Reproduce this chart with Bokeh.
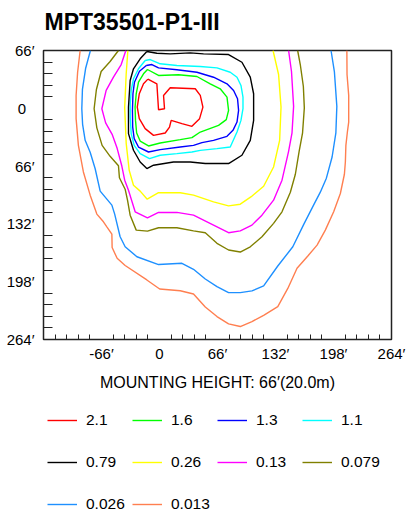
from bokeh.plotting import figure
from bokeh.layouts import column
from bokeh.models import Range1d, FixedTicker, Legend, LegendItem, Label
from bokeh.embed import file_html
from bokeh.resources import INLINE

title_text = "MPT35501-P1-III"
x_axis_label = "MOUNTING HEIGHT: 66\u2032(20.0m)"
x_ticks = [-66, 0, 66, 132, 198, 264]
x_tick_labels = ["-66\u2032", "0", "66\u2032", "132\u2032", "198\u2032", "264\u2032"]
y_ticks = [66, 0, -66, -132, -198, -264]
y_tick_labels = ["66\u2032", "0\u2007", "66\u2032", "132\u2032", "198\u2032", "264\u2032"]
minor_x = [-118.8, -105.6, -92.4, -79.2, -52.8, -39.6, -26.4, -13.2, 13.2, 26.4, 39.6, 52.8,
           79.2, 92.4, 105.6, 118.8, 145.2, 158.4, 171.6, 184.8, 211.2, 224.4, 237.6, 250.8]
minor_y = [52.8, 39.6, 26.4, 13.2, -13.2, -26.4, -39.6, -52.8, -79.2, -92.4, -105.6, -118.8,
           -145.2, -158.4, -171.6, -184.8, -211.2, -224.4, -237.6, -250.8]

levels = ["2.1", "1.6", "1.3", "1.1", "0.79", "0.26", "0.13", "0.079", "0.026", "0.013"]
colors = ["#ff0000", "#00ff00", "#0000ff", "#00ffff", "#000000",
          "#ffff00", "#ff00ff", "#808000", "#1e90ff", "#ff7f50"]

c_21_x = [-13.2, -3.0, -1.1, 5.7, 4.6, 12.2, 40.7, 46.4, 49.4, 45.6, 36.9, 25.5, 13.3, 11.4, 6.5,
          -6.8, -16.3, -23.0, -25.3, -23.0, -18.2, -13.2]
c_21_y = [33.3, 28.0, -1.6, -0.5, 14.7, 23.5, 22.3, 14.7, 1.4, -11.8, -20.6, -17.5, -13.8, -21.4,
          -28.2, -30.9, -23.2, -11.8, 1.4, 16.6, 28.0, 33.3]

c_16_x = [-13.7, -1.1, 21.6, 42.6, 57.7, 69.1, 76.8, 78.6, 76.0, 67.2, 46.4, 36.9, 23.6, 0.8,
          -12.5, -22.0, -26.0, -27.3, -27.8, -26.5, -23.9, -18.2, -13.7]
c_16_y = [44.3, 37.5, 38.3, 36.3, 28.0, 22.3, 12.8, -2.4, -13.0, -19.5, -27.1, -33.5, -35.8,
          -39.6, -43.0, -37.4, -28.2, -13.8, 1.4, 16.6, 29.8, 39.4, 44.3]

c_13_x = [-15.0, -8.7, -1.1, 19.8, 42.6, 61.5, 76.8, 84.3, 88.8, 90.0, 88.2, 83.6, 76.8, 61.5,
          48.3, 38.7, 23.6, 0.8, -12.5, -23.9, -28.8, -30.5, -30.8, -30.2, -28.5, -22.8, -15.0]
c_13_y = [48.9, 50.0, 46.2, 44.0, 41.2, 35.5, 28.0, 20.4, 10.9, -2.4, -15.7, -25.2, -32.0, -36.6,
          -39.2, -42.3, -44.2, -47.2, -49.9, -44.2, -34.6, -21.4, -2.4, 16.6, 29.8, 42.4, 48.9]

c_11_x = [-16.3, -10.6, 0.8, 19.8, 46.4, 65.4, 80.5, 88.2, 92.7, 95.0, 95.0, 92.7, 88.2, 80.5,
          65.4, 46.4, 36.9, 19.8, 0.8, -11.4, -22.0, -28.8, -32.2, -33.3, -33.3, -32.2, -29.6,
          -23.9, -16.3]
c_11_y = [54.6, 55.7, 50.8, 48.9, 47.7, 46.2, 41.2, 35.5, 26.1, 12.8, -0.5, -13.8, -27.1, -44.2,
          -46.0, -48.0, -49.9, -51.7, -53.6, -57.4, -51.7, -42.3, -28.9, -10.0, 5.2, 20.4, 33.7,
          45.1, 54.6]

c_079_x = [-14.4, -3.0, 12.2, 35.0, 50.1, 78.6, 93.8, 103.3, 107.1, 107.1, 103.3, 93.8, 78.6,
           52.1, 35.0, 15.9, -6.8, -14.4, -22.0, -29.6, -35.3, -35.3, -33.4, -29.6, -22.0, -14.4]
c_079_y = [64.8, 62.9, 62.2, 63.3, 62.2, 61.4, 52.6, 35.5, 16.6, -13.8, -36.6, -53.6, -63.1,
           -63.1, -61.3, -61.3, -65.0, -68.8, -61.3, -47.9, -28.9, 1.4, 31.8, 45.1, 56.5, 64.8]

c_026_x = [-36.0, -37.9, -39.6, -37.9, -34.5, -29.6, -22.0, -14.0, -1.1, 23.6, 38.7, 61.5, 78.6,
           91.9, 104.4, 118.5, 129.8, 136.7, 138.3, 135.5, 129.2]
c_026_y = [66, 39.4, 1.0, -40.0, -70.7, -87.8, -94.6, -103.8, -96.4, -96.4, -99.2, -106.8, -111.4,
           -109.5, -100.9, -89.0, -67.0, -36.6, 1.4, 38.6, 66]

c_013_x = [-38.3, -43.6, -52.4, -60.7, -65.6, -61.3, -53.9, -48.2, -43.1, -39.6, -35.3, -27.7,
           -13.7, -1.1, 19.8, 38.7, 61.5, 78.6, 91.9, 105.2, 116.6, 129.8, 139.4, 146.9, 150.8,
           152.6, 150.2, 146.9]
c_013_y = [66, 50.0, 35.5, 20.4, -0.5, -16.6, -29.7, -45.7, -65.0, -82.1, -93.5, -118.2, -125.1,
           -118.9, -118.9, -122.0, -133.4, -142.1, -139.9, -133.4, -122.0, -104.9, -82.1, -49.1,
           -28.0, 2.2, 42.0, 66]

c_0079_x = [-46.7, -56.2, -66.4, -71.8, -74.4, -71.3, -65.3, -56.2, -46.7, -45.6, -39.1, -36.4,
            -33.4, -26.5, -13.7, -1.1, 19.8, 38.7, 52.1, 65.4, 78.6, 91.9, 103.3, 116.6, 129.8,
            139.4, 148.9, 154.6, 158.9, 162.8, 164.8, 163.7, 160.2, 157.2]
c_0079_y = [66, 53.4, 42.0, 21.5, -0.5, -22.3, -42.3, -54.8, -65.6, -79.3, -92.4, -104.9, -122.0,
            -139.1, -140.2, -136.4, -136.4, -139.9, -142.1, -154.2, -161.8, -164.1, -158.1,
            -146.7, -131.4, -118.2, -95.8, -75.3, -49.1, -28.0, 0.5, 24.9, 50.0, 66]

c_0026_x = [-78.6, -84.1, -87.7, -88.4, -87.5, -84.6, -78.9, -73.2, -67.5, -54.2, -51.0, -44.8,
            -39.1, -25.7, -1.1, 25.5, 38.7, 52.1, 65.4, 78.6, 91.9, 105.2, 118.5, 134.6, 151.7,
            164.0, 176.2, 183.0, 189.9, 196.4, 200.7, 201.8, 199.0, 195.2]
c_0026_y = [66, 45.4, 21.5, -0.5, -18.3, -36.6, -50.2, -69.0, -94.6, -110.6, -120.8, -146.7,
            -158.1, -169.5, -178.4, -177.0, -183.8, -194.9, -203.6, -210.5, -210.5, -208.5,
            -202.8, -180.1, -158.1, -132.8, -108.9, -95.8, -79.8, -55.6, -28.0, 2.2, 42.0, 66]

c_0013_x = [-90.3, -93.2, -94.9, -94.9, -92.3, -86.6, -78.9, -71.3, -63.8, -59.9, -54.2, -53.9,
            -48.2, -39.1, -14.4, 0.2, 23.6, 38.7, 52.1, 65.4, 78.6, 91.9, 105.2, 118.5, 134.6,
            146.0, 156.5, 168.8, 179.3, 188.7, 198.2, 205.8, 210.4, 211.5, 212.1, 213.8, 215.3,
            215.3, 213.4, 213.2]
c_0013_y = [66, 40.9, 14.7, -11.8, -42.3, -72.7, -99.2, -120.8, -129.6, -135.3, -143.6, -159.0,
            -171.3, -179.5, -196.0, -206.3, -208.3, -212.0, -226.8, -237.8, -246.1, -249.2,
            -243.5, -236.4, -226.4, -205.7, -182.7, -168.7, -156.2, -139.1, -118.2, -97.3, -75.3,
            -61.3, -42.3, -27.1, -15.7, 14.7, 38.6, 66]

contours_x = [c_21_x, c_16_x, c_13_x, c_11_x, c_079_x, c_026_x, c_013_x, c_0079_x, c_0026_x, c_0013_x]
contours_y = [c_21_y, c_16_y, c_13_y, c_11_y, c_079_y, c_026_y, c_013_y, c_0079_y, c_0026_y, c_0013_y]

FONT = "Liberation Sans"
NAN = float("nan")


def blank_figure(height):
    f = figure(width=409, height=height, x_range=Range1d(0, 1), y_range=Range1d(0, 1),
               title=None, output_backend="svg", toolbar_location=None,
               x_axis_location=None, y_axis_location=None,
               min_border_left=0, min_border_right=0, min_border_top=0, min_border_bottom=0)
    f.grid.visible = False
    f.outline_line_color = None
    f.background_fill_color = "white"
    f.border_fill_color = "white"
    return f


# --- title strip (its frame is aligned with the chart frame, which starts at x=43) ---
p_title = blank_figure(40)
p_title.add_layout(Label(x=1, y=19, x_units="screen", y_units="screen", text=title_text,
                         text_font=FONT, text_font_size="23px", text_font_style="bold",
                         text_color="#000000", text_baseline="alphabetic", text_align="left"))

# --- main chart ---
p = figure(width=409, height=354, x_range=Range1d(-132, 264), y_range=Range1d(-264, 66),
           title=None, output_backend="svg", toolbar_location=None,
           min_border_left=43, min_border_right=18, min_border_top=10, min_border_bottom=55)

p.grid.visible = False
p.outline_line_color = "#222222"
p.outline_line_width = 1.5
p.background_fill_color = "white"
p.border_fill_color = "white"

p.xaxis.ticker = FixedTicker(ticks=x_ticks, minor_ticks=minor_x)
p.yaxis.ticker = FixedTicker(ticks=y_ticks, minor_ticks=minor_y)
p.xaxis.major_label_overrides = {t: s for t, s in zip(x_ticks, x_tick_labels)}
p.yaxis.major_label_overrides = {t: s for t, s in zip(y_ticks, y_tick_labels)}
for ax in (p.xaxis[0], p.yaxis[0]):
    ax.axis_line_color = None
    ax.major_tick_in = 0
    ax.major_tick_out = 0
    ax.minor_tick_out = 0
    ax.minor_tick_line_color = "#222222"
    ax.major_label_text_font = FONT
    ax.major_label_text_font_size = "15px"
    ax.major_label_text_color = "#000000"
p.xaxis.minor_tick_in = 5
p.yaxis.minor_tick_in = 9
p.xaxis.major_label_standoff = 5
p.yaxis.major_label_standoff = 9
p.xaxis.axis_label = x_axis_label
p.xaxis.axis_label_text_font = FONT
p.xaxis.axis_label_text_font_size = "16px"
p.xaxis.axis_label_text_font_style = "normal"
p.xaxis.axis_label_text_color = "#000000"
p.xaxis.axis_label_standoff = 9

for col, xs, ys in zip(colors, contours_x, contours_y):
    p.line(xs, ys, line_color=col, line_width=1.4)

# --- legend strip ---
p_leg = blank_figure(120)
items = []
for lab, col in zip(levels, colors):
    r = p_leg.line(x=[NAN, NAN], y=[NAN, NAN], line_color=col, line_width=1.4)
    items.append(LegendItem(label=lab, renderers=[r]))
legend = Legend(items=items, location=(4, -10), orientation="horizontal", ncols=4,
                glyph_width=30, glyph_height=40, label_height=40, label_width=44,
                label_standoff=9, spacing=2, padding=0, margin=0,
                border_line_color=None, background_fill_alpha=0,
                label_text_font=FONT, label_text_font_size="15.5px",
                label_text_color="#000000")
p_leg.add_layout(legend, "center")

layout = column(p_title, p, p_leg, spacing=0)
open("out.html", "w").write(file_html(layout, INLINE))
